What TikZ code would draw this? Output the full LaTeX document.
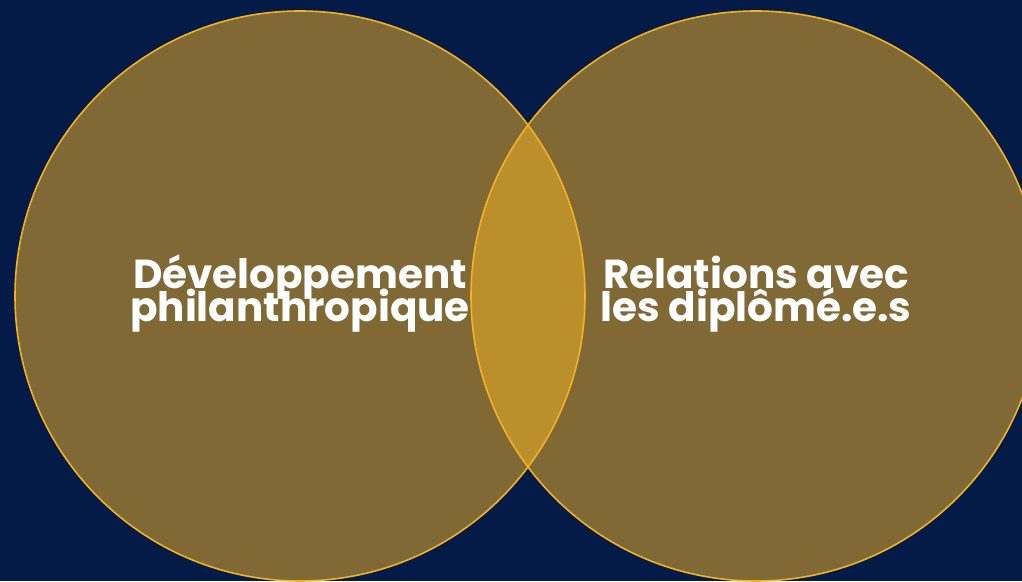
\documentclass[tikz,border=0pt]{standalone}
\usepackage{fontspec}
\setmainfont{Poppins}[BoldFont={* Bold}]
\definecolor{navy}{RGB}{4,27,72}
\definecolor{gold}{RGB}{242,178,36}
\tikzset{
  venn/.style={draw=gold, line width=1.6pt, fill=gold, fill opacity=0.52},
  lbl/.style={text=white, anchor=base, inner sep=0pt, font=\fontsize{40.5}{33}\selectfont\bfseries}
}
\begin{document}
\begin{tikzpicture}[x=1pt,y=1pt]
\useasboundingbox (0,0) rectangle (1022,581);
\clip (0,0) rectangle (1022,581);
\fill[navy] (0,0) rectangle (1022,581);
\draw[venn] (300,285) circle[radius=285] coordinate (cl);
\draw[venn] (756,285) circle[radius=285] coordinate (cr);
\node[lbl] (l1) at (300,292) {Développement};
\node[lbl] (l2) at (300,259) {philanthropique};
\node[lbl] (r1) at (756,292) {Relations avec};
\node[lbl] (r2) at (756,259) {les diplômé.e.s};
\end{tikzpicture}
\end{document}
